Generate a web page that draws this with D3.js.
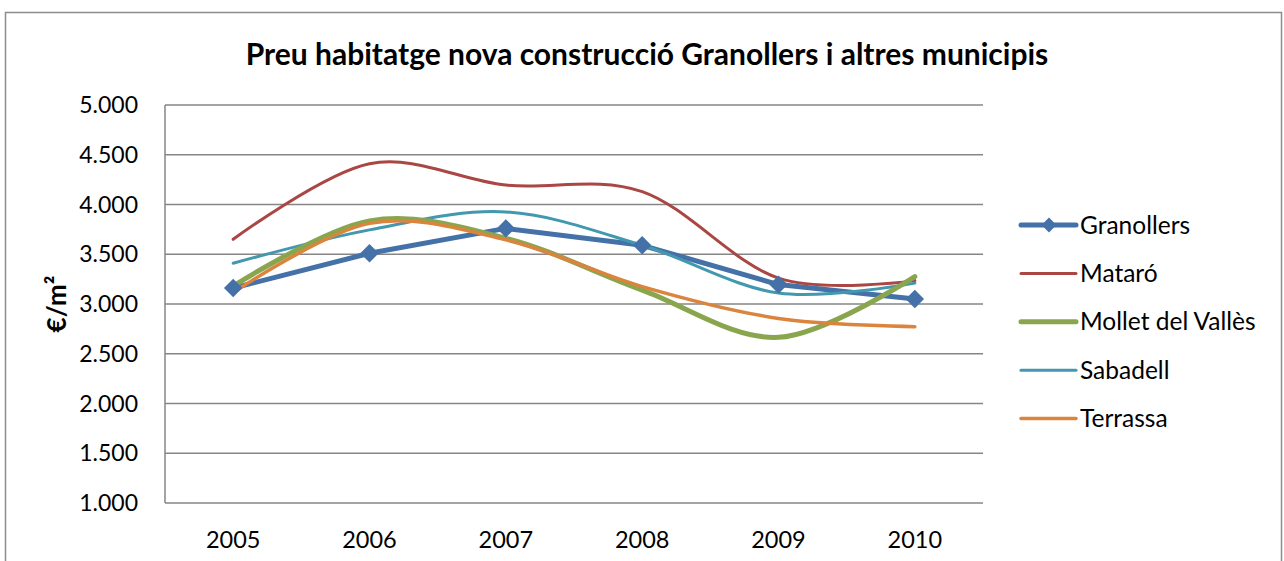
<!DOCTYPE html>
<html>
<head>
<meta charset="utf-8">
<script src="https://cdn.jsdelivr.net/npm/d3@7"></script>
<style>
  body { margin: 0; background: #fff; }
  svg { display: block; font-family: Lato, "Open Sans", sans-serif; }
</style>
</head>
<body>
<div id="chart"></div>
<script>
const years = ["2005", "2006", "2007", "2008", "2009", "2010"];
const granollers = [3160, 3510, 3760, 3590, 3195, 3050];
const mataro = [3650, 4410, 4195, 4130, 3260, 3235];
const mollet = [3180, 3835, 3660, 3140, 2665, 3275];
const sabadell = [3410, 3745, 3925, 3590, 3110, 3210];
const terrassa = [3115, 3810, 3645, 3175, 2855, 2772];
const yTicks = [1000, 1500, 2000, 2500, 3000, 3500, 4000, 4500, 5000];

const series = [
  {name: "Granollers", values: granollers, color: "#4471a8", width: 5, smooth: false, marker: true},
  {name: "Mataró", values: mataro, color: "#aa4643", width: 3, smooth: true},
  {name: "Mollet del Vallès", values: mollet, color: "#89a54e", width: 5, smooth: true},
  {name: "Sabadell", values: sabadell, color: "#4198af", width: 3, smooth: true},
  {name: "Terrassa", values: terrassa, color: "#db843d", width: 3.5, smooth: true}
];

const width = 1284, height = 561;
const margin = {top: 105, right: 301, bottom: 58, left: 165};

const svg = d3.select("#chart").append("svg")
  .attr("width", width).attr("height", height)
  .attr("viewBox", [0, 0, width, height]);

// chart border
svg.append("rect")
  .attr("x", 5.5).attr("y", 12.5)
  .attr("width", 1276).attr("height", 560)
  .attr("fill", "none").attr("stroke", "#8c8c8c").attr("stroke-width", 1.5);

const x = d3.scalePoint()
  .domain(years)
  .range([margin.left, width - margin.right])
  .padding(0.5);

const y = d3.scaleLinear()
  .domain([1000, 5000])
  .range([height - margin.bottom, margin.top]);

const fmt = d => d3.format(",")(d).replace(",", ".");

// gridlines
svg.append("g")
  .selectAll("line")
  .data(yTicks)
  .join("line")
    .attr("x1", margin.left).attr("x2", width - margin.right)
    .attr("y1", d => y(d)).attr("y2", d => y(d))
    .attr("stroke", "#868686").attr("stroke-width", 1.5);

// y axis line
svg.append("line")
  .attr("x1", margin.left).attr("x2", margin.left)
  .attr("y1", y(5000)).attr("y2", y(1000))
  .attr("stroke", "#868686").attr("stroke-width", 1.5);

svg.append("g")
  .selectAll("text")
  .data(yTicks)
  .join("text")
    .attr("x", 138).attr("y", d => y(d))
    .attr("dy", "0.35em")
    .attr("text-anchor", "end")
    .attr("font-size", 23)
    .text(fmt);

svg.append("g")
  .selectAll("text")
  .data(years)
  .join("text")
    .attr("x", d => x(d)).attr("y", 540)
    .attr("dy", "0.35em")
    .attr("text-anchor", "middle")
    .attr("font-size", 23.5)
    .text(d => d);

svg.append("text")
  .attr("transform", "translate(66,304) rotate(-90)")
  .attr("text-anchor", "middle")
  .attr("font-size", 26)
  .attr("font-weight", "bold")
  .text("€/m²");

svg.append("text")
  .attr("x", 647).attr("y", 65)
  .attr("text-anchor", "middle")
  .attr("font-size", 30)
  .attr("font-weight", "bold")
  .text("Preu habitatge nova construcció Granollers i altres municipis");

// lines
const smoothLine = d3.line()
  .x((d, i) => x(years[i])).y(d => y(d))
  .curve(d3.curveCatmullRom.alpha(0));
const straightLine = d3.line()
  .x((d, i) => x(years[i])).y(d => y(d));

const drawOrder = [series[0], series[1], series[3], series[2], series[4]];
drawOrder.forEach(s => {
  svg.append("path")
    .attr("d", (s.smooth ? smoothLine : straightLine)(s.values))
    .attr("fill", "none")
    .attr("stroke", s.color)
    .attr("stroke-width", s.width)
    .attr("stroke-linejoin", "round")
    .attr("stroke-linecap", "round");
});

const diamond = d3.symbol().type(d3.symbolSquare).size(170);
svg.append("g")
  .selectAll("path")
  .data(granollers)
  .join("path")
    .attr("d", diamond)
    .attr("transform", (d, i) => `translate(${x(years[i])},${y(d)}) rotate(45)`)
    .attr("fill", series[0].color);

// legend
const legend = svg.append("g")
  .selectAll("g")
  .data(series)
  .join("g")
    .attr("transform", (d, i) => `translate(1021,${225 + i * 48.4})`);

legend.append("line")
  .attr("x1", 0).attr("x2", 55)
  .attr("stroke", d => d.color)
  .attr("stroke-width", d => d.width)
  .attr("stroke-linecap", "round");

legend.filter(d => d.marker).append("path")
  .attr("d", d3.symbol().type(d3.symbolSquare).size(110))
  .attr("transform", "translate(28,0) rotate(45)")
  .attr("fill", d => d.color);

legend.append("text")
  .attr("x", 59).attr("dy", "0.35em")
  .attr("font-size", 24.5)
  .text(d => d.name);
</script>
</body>
</html>
